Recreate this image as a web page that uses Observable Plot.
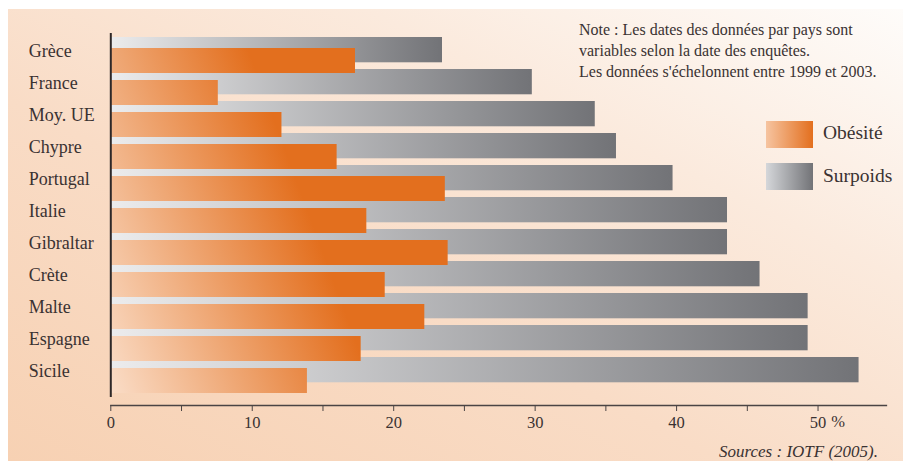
<!DOCTYPE html>
<html><head><meta charset="utf-8">
<script src="https://cdn.jsdelivr.net/npm/d3@7"></script>
<script src="https://cdn.jsdelivr.net/npm/@observablehq/plot@0.6"></script>
<style>
body{margin:0;background:#fff;}
#wrap{position:relative;width:903px;height:461px;overflow:hidden;font-family:"Liberation Serif",serif;color:#3a3232;}
#panel{position:absolute;left:8px;top:9px;width:895px;height:452px;background:linear-gradient(to top right,#f7d1b3 0%,#f9dcc6 40%,#fbeadd 70%,#fefcfa 100%);}
#chart{position:absolute;left:0;top:0;}
#note{position:absolute;left:579px;top:19px;font-size:16px;line-height:21px;white-space:nowrap;}
.sw{position:absolute;left:766px;width:47px;height:27px;}
.lt{position:absolute;left:823px;font-size:19.5px;line-height:24px;white-space:nowrap;}
#src{position:absolute;right:25px;top:441px;font-size:17px;line-height:22px;font-style:italic;white-space:nowrap;}
</style></head>
<body>
<div id="wrap">
  <div id="panel"></div>
  <div id="chart"></div>
  <div id="note">Note : Les dates des données par pays sont<br>variables selon la date des enquêtes.<br>Les données s'échelonnent entre 1999 et 2003.</div>
  <div class="sw" style="top:121px;background:linear-gradient(to right,#f6c4a0,#e36f1e);"></div>
  <div class="lt" style="top:121px;">Obésité</div>
  <div class="sw" style="top:163px;background:linear-gradient(to right,#d5d7da,#727377);"></div>
  <div class="lt" style="top:164px;">Surpoids</div>
  <div id="src">Sources : IOTF (2005).</div>
</div>
<script>
const countries = ["Grèce","France","Moy. UE","Chypre","Portugal","Italie","Gibraltar","Crète","Malte","Espagne","Sicile"];
const obesite  = [17.3, 7.6, 12.1, 16.0, 23.65, 18.1, 23.85, 19.4, 22.2, 17.7, 13.9];
const surpoids = [23.45, 29.8, 34.25, 35.75, 39.75, 43.6, 43.6, 45.9, 49.3, 49.3, 52.9];
const tickValues = [0, 5, 10, 15, 20, 25, 30, 35, 40, 45, 50];
const tickLabels = ["0", "", "10", "", "20", "", "30", "", "40", "", "50"];
const unitLabel = ["%"];

const rows = countries.map((c, i) => ({country: c, obesite: obesite[i], surpoids: surpoids[i]}));

const svg = Plot.plot({
  width: 903, height: 461,
  marginLeft: 110.3, marginRight: 17, marginTop: 33, marginBottom: 56,
  style: {background: "transparent", fontFamily: "Liberation Serif", color: "#3a3232"},
  x: {domain: [0, 54.84], axis: null},
  y: {domain: countries, range: [32.7, 392.7], padding: 0, axis: null},
  marks: [
    Plot.barX(rows, {x: "surpoids", y: "country", fill: "url(#grayGrad)", insetTop: 0, insetBottom: 6.7}),
    Plot.barX(rows, {x: "obesite", y: "country", fill: "url(#orangeGrad)", insetTop: 11, insetBottom: -4}),
    Plot.ruleX([0], {stroke: "#2e2828", strokeWidth: 2, insetBottom: 8}),
    Plot.frame({anchor: "bottom", stroke: "#4a4444", strokeWidth: 1.3}),
    Plot.axisX(tickValues, {tickSize: 6, tickPadding: 5, stroke: "#4a4444", fill: "#3a3232", fontSize: 16.5,
      tickFormat: d => tickLabels[tickValues.indexOf(d)]}),
    Plot.text(unitLabel, {x: () => 50, text: d => d, frameAnchor: "bottom", dx: 20, dy: 21, fontSize: 16.5, fill: "#3a3232"}),
    Plot.text(countries, {y: d => d, text: d => d, frameAnchor: "left", textAnchor: "start", dx: -82, dy: -2, fontSize: 18, fill: "#3a3232"})
  ]
});

d3.select(svg).insert("defs", ":first-child").html(`
  <linearGradient id="grayGrad" x1="0" y1="0" x2="1" y2="0">
    <stop offset="0" stop-color="#ececed"/>
    <stop offset="1" stop-color="#727377"/>
  </linearGradient>
  <linearGradient id="orangeGrad" gradientUnits="userSpaceOnUse" x1="-29" y1="108" x2="234" y2="11">
    <stop offset="0" stop-color="#fdebdd"/>
    <stop offset="1" stop-color="#e36f1e"/>
  </linearGradient>`);

document.getElementById("chart").appendChild(svg);
</script>
</body></html>
